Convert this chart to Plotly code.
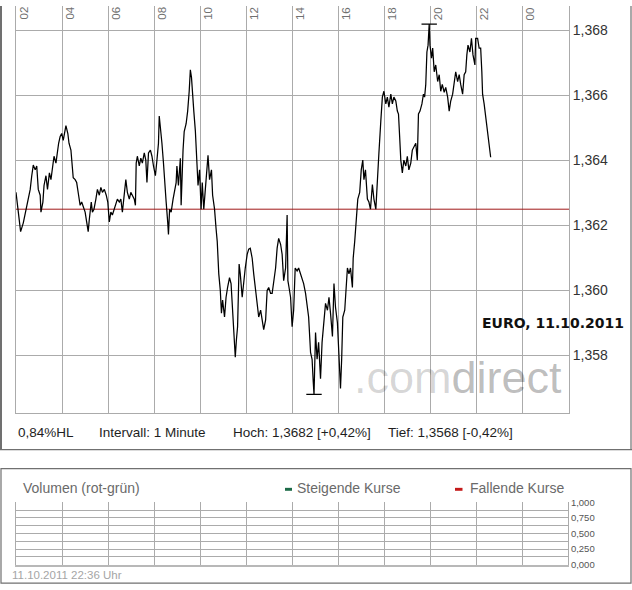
import plotly.graph_objects as go
from datetime import datetime, timedelta

# ---------------- data ----------------
DAY = "2011-10-11"
times = [
    "02:00", "02:06", "02:12", "02:19", "02:26", "02:32", "02:37", "02:41", "02:45", "02:50", "02:54", "02:58",
    "03:03", "03:05", "03:10", "03:13", "03:18", "03:22", "03:27", "03:31", "03:35", "03:39", "03:44", "03:48", "03:51", "03:55", "03:59",
    "04:03", "04:08", "04:10", "04:15", "04:18", "04:23", "04:25", "04:29", "04:34", "04:38", "04:43", "04:47", "04:51", "04:56",
    "05:00", "05:04", "05:08", "05:11", "05:16", "05:19", "05:23", "05:28", "05:32", "05:37", "05:41", "05:45", "05:50", "05:55", "05:59",
    "06:03", "06:07", "06:11", "06:16", "06:20", "06:24", "06:29", "06:33", "06:37", "06:42", "06:46", "06:50", "06:55", "06:59",
    "07:03", "07:08", "07:11", "07:13", "07:16", "07:21", "07:25", "07:29", "07:34", "07:38", "07:41", "07:45", "07:50", "07:54", "07:58",
    "08:03", "08:07", "08:11", "08:13", "08:16", "08:20", "08:24", "08:29", "08:31", "08:35", "08:37", "08:40", "08:44", "08:49", "08:52", "08:57", "08:59",
    "09:03", "09:08", "09:10", "09:15", "09:18", "09:23", "09:27", "09:31", "09:34", "09:37", "09:39", "09:43", "09:47", "09:51", "09:54", "09:58",
    "10:02", "10:05", "10:09", "10:13", "10:17", "10:20", "10:24", "10:29", "10:32", "10:37", "10:41", "10:44", "10:48", "10:52", "10:55", "10:58",
    "11:03", "11:07", "11:11", "11:16", "11:20", "11:24", "11:27", "11:31", "11:34", "11:37", "11:41", "11:44", "11:49", "11:53", "11:57",
    "12:02", "12:06", "12:10", "12:15", "12:19", "12:23", "12:28", "12:32", "12:37", "12:41", "12:45", "12:50", "12:54", "12:58",
    "13:03", "13:07", "13:11", "13:16", "13:20", "13:24", "13:29", "13:33", "13:37", "13:42", "13:46", "13:48", "13:51", "13:55", "13:59",
    "14:03", "14:07", "14:12", "14:16", "14:21", "14:29", "14:34", "14:42", "14:47", "14:51", "14:54", "14:56",
    "15:00", "15:04", "15:08", "15:13", "15:17", "15:22", "15:26", "15:31", "15:35", "15:39", "15:44", "15:48", "15:52", "15:57",
    "16:01", "16:05", "16:08", "16:11", "16:16", "16:18", "16:23", "16:27", "16:31", "16:36", "16:38", "16:42", "16:46", "16:50", "16:55", "16:59",
    "17:03", "17:06", "17:10", "17:15", "17:19", "17:23", "17:28", "17:32", "17:37", "17:41", "17:45", "17:50", "17:54", "17:58",
    "18:03", "18:07", "18:11", "18:16", "18:20", "18:24", "18:29", "18:33", "18:36", "18:39", "18:42", "18:46", "18:50", "18:55", "18:59",
    "19:03", "19:08", "19:12", "19:16", "19:21", "19:25", "19:28", "19:32", "19:37", "19:41", "19:44", "19:47", "19:50", "19:53", "19:56", "19:58",
    "20:02", "20:05", "20:09", "20:13", "20:18", "20:22", "20:26", "20:30", "20:35", "20:39", "20:44", "20:48", "20:52", "20:57",
    "21:01", "21:05", "21:10", "21:14", "21:18", "21:23", "21:27", "21:31", "21:34", "21:37", "21:42", "21:46", "21:50", "21:55", "21:57",
    "22:02", "22:06", "22:10", "22:13", "22:15", "22:19", "22:23", "22:28", "22:32", "22:36",
]
prices = [
    1.36302, 1.36241, 1.36181, 1.36208, 1.36250, 1.36281, 1.36311, 1.36353, 1.36386, 1.36371, 1.36383, 1.36311,
    1.36293, 1.36241, 1.36272, 1.36323, 1.36353, 1.36311, 1.36362, 1.36341, 1.36371, 1.36413, 1.36392, 1.36432, 1.36453, 1.36474, 1.36483,
    1.36462, 1.36492, 1.36507, 1.36483, 1.36453, 1.36432, 1.36392, 1.36347, 1.36341, 1.36332, 1.36293, 1.36262, 1.36272, 1.36250,
    1.36241, 1.36211, 1.36181, 1.36220, 1.36272, 1.36241, 1.36250, 1.36281, 1.36311, 1.36293, 1.36317, 1.36302, 1.36311, 1.36293, 1.36272,
    1.36211, 1.36241, 1.36232, 1.36250, 1.36262, 1.36281, 1.36272, 1.36281, 1.36241, 1.36302, 1.36341, 1.36302, 1.36281, 1.36302,
    1.36293, 1.36281, 1.36262, 1.36392, 1.36413, 1.36383, 1.36407, 1.36392, 1.36423, 1.36401, 1.36332, 1.36423, 1.36432, 1.36413, 1.36383,
    1.36353, 1.36401, 1.36453, 1.36537, 1.36504, 1.36453, 1.36392, 1.36323, 1.36272, 1.36211, 1.36172, 1.36250, 1.36241, 1.36281, 1.36302, 1.36332, 1.36383,
    1.36323, 1.36407, 1.36262, 1.36432, 1.36489, 1.36513, 1.36552, 1.36613, 1.36679, 1.36655, 1.36604, 1.36552, 1.36492, 1.36401, 1.36323, 1.36371,
    1.36250, 1.36332, 1.36250, 1.36311, 1.36383, 1.36416, 1.36341, 1.36371, 1.36293, 1.36250, 1.36190, 1.36151, 1.36051, 1.36000, 1.35930, 1.35970,
    1.35918, 1.35979, 1.36009, 1.36039, 1.36021, 1.35930, 1.35870, 1.35794, 1.35849, 1.35888, 1.36081, 1.36051, 1.35979, 1.36030, 1.36069,
    1.36111, 1.36127, 1.36130, 1.36099, 1.36051, 1.36009, 1.35948, 1.35918, 1.35939, 1.35900, 1.35879, 1.35909, 1.36000, 1.36009,
    1.35991, 1.35991, 1.36021, 1.36069, 1.36130, 1.36160, 1.36142, 1.36111, 1.36030, 1.36069, 1.36232, 1.36030, 1.36009, 1.35979, 1.35888,
    1.35939, 1.36069, 1.36060, 1.36069, 1.36051, 1.36021, 1.35991, 1.35918, 1.35809, 1.35788, 1.35719, 1.35680,
    1.35870, 1.35788, 1.35840, 1.35728, 1.35840, 1.35909, 1.35960, 1.35939, 1.35979, 1.35930, 1.35858, 1.36021, 1.35948, 1.35900,
    1.35809, 1.35698, 1.35788, 1.35918, 1.35939, 1.35970, 1.36069, 1.36051, 1.36069, 1.36009, 1.36099, 1.36151, 1.36211, 1.36281, 1.36302, 1.36371,
    1.36401, 1.36341, 1.36371, 1.36281, 1.36272, 1.36250, 1.36326, 1.36281, 1.36250, 1.36362, 1.36423, 1.36522, 1.36595, 1.36613,
    1.36574, 1.36595, 1.36564, 1.36604, 1.36574, 1.36595, 1.36583, 1.36552, 1.36543, 1.36474, 1.36401, 1.36362, 1.36401, 1.36383, 1.36413,
    1.36371, 1.36392, 1.36432, 1.36444, 1.36453, 1.36401, 1.36543, 1.36552, 1.36574, 1.36604, 1.36595, 1.36634, 1.36734, 1.36755, 1.36820, 1.36755,
    1.36715, 1.36746, 1.36673, 1.36694, 1.36643, 1.36664, 1.36613, 1.36634, 1.36610, 1.36625, 1.36595, 1.36552, 1.36583, 1.36604,
    1.36634, 1.36673, 1.36643, 1.36664, 1.36634, 1.36604, 1.36664, 1.36673, 1.36725, 1.36755, 1.36734, 1.36776, 1.36725, 1.36694, 1.36776,
    1.36776, 1.36746, 1.36746, 1.36673, 1.36604, 1.36574, 1.36534, 1.36492, 1.36444, 1.36410,
]
PREV_CLOSE = 1.3625
price_ticks = [1.358, 1.360, 1.362, 1.364, 1.366, 1.368]
price_tick_labels = ["1,358", "1,360", "1,362", "1,364", "1,366", "1,368"]
hour_labels = ["02", "04", "06", "08", "10", "12", "14", "16", "18", "20", "22", "00"]
vol_ticks = [0, 0.125, 0.25, 0.375, 0.5, 0.625, 0.75, 0.875, 1.0]
vol_tick_labels = ["0,000", "", "0,250", "", "0,500", "", "0,750", "", "1,000"]
info_texts = ["0,84%HL", "Intervall: 1 Minute", "Hoch: 1,3682 [+0,42%]", "Tief: 1,3568 [-0,42%]"]
TITLE = "EURO, 11.10.2011"
VOL_TITLE = "Volumen (rot-grün)"
LEG_UP = "Steigende Kurse"
LEG_DOWN = "Fallende Kurse"
STAMP = "11.10.2011 22:36 Uhr"

# ---------------- helpers ----------------
W, H = 632, 590
def px(x):
    return x / W
def py(y):
    return 1 - y / H

FONT = "Liberation Sans, Arial, sans-serif"
GRID = "#ababab"
FRAME = "#707070"

xs = [datetime.strptime(f"{DAY} {t}", "%Y-%m-%d %H:%M") for t in times]
start = datetime(2011, 10, 11, 2, 0)
end = start + timedelta(hours=24)
xr = [start, end]

hi = max(prices)
lo = min(prices)
hi_t = xs[prices.index(hi)]
lo_t = xs[prices.index(lo)]

fig = go.Figure()
# previous close reference line across the whole axis range
fig.add_trace(go.Scatter(x=xr, y=[PREV_CLOSE, PREV_CLOSE], mode="lines",
                         line=dict(color="#a01818", width=1),
                         xaxis="x", yaxis="y", hoverinfo="skip"))
fig.add_trace(go.Scatter(x=xs, y=prices, mode="lines",
                         line=dict(color="black", width=1.25),
                         xaxis="x", yaxis="y", hoverinfo="skip"))
fig.add_trace(go.Scatter(x=[hi_t, lo_t], y=[hi, lo], mode="markers",
                         marker=dict(symbol="line-ew", size=11,
                                     line=dict(color="black", width=1.2)),
                         xaxis="x", yaxis="y", hoverinfo="skip"))
fig.add_trace(go.Scatter(x=[start], y=[0], mode="markers", marker=dict(opacity=0),
                         xaxis="x2", yaxis="y2", hoverinfo="skip"))

ann = []
# hour labels along the top
for i, lab in enumerate(hour_labels):
    ann.append(dict(x=start + timedelta(hours=2 * i), y=1, xref="x", yref="paper",
                    text=lab, showarrow=False, textangle=-90,
                    xanchor="center", yanchor="top", xshift=7, yshift=1,
                    font=dict(family=FONT, size=11.5, color="#707070")))

# watermark
ann.append(dict(x=px(352), y=py(407), xref="paper", yref="paper", showarrow=False,
                xanchor="left", yanchor="bottom",
                text='<span style="color:rgba(0,0,0,0.17)">.com</span>'
                     '<span style="color:rgba(0,0,0,0.27)">direct</span>',
                font=dict(family=FONT, size=45)))
# title
ann.append(dict(x=px(480), y=py(323), xref="paper", yref="paper", showarrow=False,
                xanchor="left", yanchor="middle", text="<b>" + TITLE + "</b>",
                font=dict(family="DejaVu Sans", size=14, color="#111111")))
# info line
for xpos, t in zip([16, 97, 231, 386], info_texts):
    ann.append(dict(x=px(xpos), y=py(435), xref="paper", yref="paper", showarrow=False,
                    xanchor="left", yanchor="middle", text=t,
                    font=dict(family=FONT, size=13.5, color="#1e1e1e")))
# volume panel texts
ann.append(dict(x=px(21), y=py(491), xref="paper", yref="paper", showarrow=False,
                xanchor="left", yanchor="middle", text=VOL_TITLE,
                font=dict(family=FONT, size=14, color="#6a6a6a")))
ann.append(dict(x=px(295), y=py(491), xref="paper", yref="paper", showarrow=False,
                xanchor="left", yanchor="middle", text=LEG_UP,
                font=dict(family=FONT, size=14, color="#6a6a6a")))
ann.append(dict(x=px(468), y=py(491), xref="paper", yref="paper", showarrow=False,
                xanchor="left", yanchor="middle", text=LEG_DOWN,
                font=dict(family=FONT, size=14, color="#6a6a6a")))
ann.append(dict(x=px(10), y=py(580), xref="paper", yref="paper", showarrow=False,
                xanchor="left", yanchor="middle", text=STAMP,
                font=dict(family=FONT, size=11.5, color="#a5a5a5")))

shapes = [
    # legend dashes
    dict(type="rect", xref="paper", yref="paper", x0=px(285), x1=px(292), y0=py(494), y1=py(491),
         fillcolor="#1d6b48", line=dict(width=0)),
    dict(type="rect", xref="paper", yref="paper", x0=px(455), x1=px(462.5), y0=py(494), y1=py(491),
         fillcolor="#c41a1a", line=dict(width=0)),
    # main panel frame (left, right, bottom)
    dict(type="line", xref="paper", yref="paper", x0=px(1), x1=px(1), y0=py(452), y1=1,
         line=dict(color=FRAME, width=2)),
    dict(type="line", xref="paper", yref="paper", x0=px(631), x1=px(631), y0=py(452), y1=1,
         line=dict(color=FRAME, width=1.2)),
    dict(type="line", xref="paper", yref="paper", x0=0, x1=1, y0=py(452), y1=py(452),
         line=dict(color=FRAME, width=1.2)),
    # volume panel frame
    dict(type="rect", xref="paper", yref="paper", x0=px(1), x1=px(631), y0=py(588), y1=py(471.5),
         line=dict(color=FRAME, width=1.2)),
]
for s in shapes:
    fig.add_shape(**s)

fig.update_layout(
    width=W, height=H, margin=dict(l=0, r=0, t=0, b=0),
    paper_bgcolor="white", plot_bgcolor="white", showlegend=False,
    annotations=ann,
    xaxis=dict(domain=[px(16), px(569)], range=xr, type="date",
               tick0=start, dtick=7200000, showgrid=True, gridcolor=GRID, gridwidth=1,
               showticklabels=False, ticks="", showline=True, linecolor=GRID, linewidth=1,
               zeroline=False, anchor="y"),
    yaxis=dict(domain=[py(415), 1], range=[1.356218, 1.368755], side="right",
               tickvals=price_ticks, ticktext=price_tick_labels,
               showgrid=True, gridcolor=GRID, gridwidth=1, zeroline=False,
               showline=True, mirror=True, linecolor=GRID, linewidth=1, ticks="",
               tickfont=dict(family=FONT, size=14, color="#333333"), anchor="x"),
    xaxis2=dict(domain=[px(16), px(568)], range=xr, type="date",
                tick0=start, dtick=7200000, showgrid=True, gridcolor=GRID, gridwidth=1,
                showticklabels=False, ticks="", showline=True, linecolor="#b8b8b8", linewidth=2,
                zeroline=False, anchor="y2"),
    yaxis2=dict(domain=[py(569.3), py(505.7)], range=[0, 1], side="right",
                tickvals=vol_ticks, ticktext=vol_tick_labels,
                showgrid=True, gridcolor=GRID, gridwidth=1, zeroline=False,
                showline=True, mirror=True, linecolor=GRID, linewidth=1, ticks="",
                tickfont=dict(family=FONT, size=9.5, color="#555555"), anchor="x2"),
)

fig.write_html("out.html", config={"displayModeBar": False},
               post_script="document.body.style.margin='0px';document.body.style.overflow='hidden';")
